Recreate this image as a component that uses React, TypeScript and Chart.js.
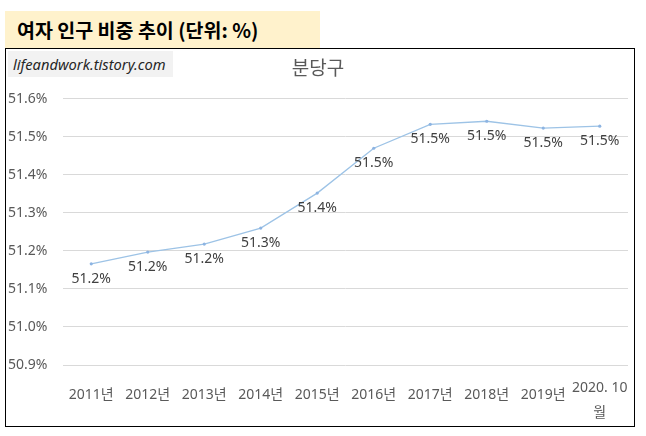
import { useEffect, useRef } from "react";
import { Chart, registerables, ChartConfiguration, Plugin } from "chart.js";

Chart.register(...registerables);

const categories: (string | string[])[] = [
  "2011년", "2012년", "2013년", "2014년", "2015년",
  "2016년", "2017년", "2018년", "2019년", ["2020. 10", "월"],
];
const femaleShare = [51.166, 51.197, 51.218, 51.26, 51.352, 51.47, 51.533, 51.541, 51.523, 51.528];
const yMin = 50.9;
const yMax = 51.6;

const FONT = "'Noto Sans', 'Noto Sans CJK KR', sans-serif";

// Excel style value labels just under each point
const pointLabels: Plugin<"line"> = {
  id: "pointLabels",
  afterDatasetsDraw(chart) {
    const ctx = chart.ctx;
    const meta = chart.getDatasetMeta(0);
    ctx.save();
    ctx.font = `14px ${FONT}`;
    ctx.fillStyle = "#404040";
    ctx.textAlign = "center";
    ctx.textBaseline = "middle";
    meta.data.forEach((pt, i) => {
      ctx.fillText(femaleShare[i].toFixed(1) + "%", pt.x, pt.y + 15);
    });
    ctx.restore();
  },
};

export default function App() {
  const chartRef = useRef<HTMLCanvasElement | null>(null);
  const chartInstanceRef = useRef<Chart<"line", number[], string | string[]> | null>(null);

  useEffect(() => {
    document.body.style.margin = "0";
    const canvas = chartRef.current;
    if (!canvas) return;
    const ctx = canvas.getContext("2d");
    if (!ctx) return;

    if (chartInstanceRef.current) {
      chartInstanceRef.current.destroy();
    }

    const config: ChartConfiguration<"line", number[], string | string[]> = {
      type: "line",
      data: {
        labels: categories,
        datasets: [
          {
            label: "분당구",
            data: femaleShare,
            borderColor: "#9dc3e6",
            backgroundColor: "#8db4e2",
            borderWidth: 1.3,
            tension: 0,
            pointRadius: 1.6,
            pointBorderWidth: 0,
            pointBackgroundColor: "#8db4e2",
          },
        ],
      },
      options: {
        responsive: false,
        animation: false,
        layout: { padding: { left: 8, right: 18, top: 0, bottom: 8 } },
        scales: {
          x: {
            offset: true,
            grid: { display: false, offset: true },
            border: { display: false },
            afterFit: (scale) => {
              scale.height = 63;
            },
            ticks: {
              color: "#595959",
              padding: 2.5,
              maxRotation: 0,
              autoSkip: false,
              font: (c) => ({
                family: FONT,
                size: 14,
                lineHeight: c.index === 9 ? 25 / 14 : 39 / 14,
              }),
            },
          },
          y: {
            min: yMin,
            max: yMax,
            grid: { color: "#d9d9d9", drawTicks: false, lineWidth: 1 },
            border: { display: false },
            afterFit: (scale) => {
              scale.width = 55;
            },
            ticks: {
              stepSize: 0.1,
              color: "#595959",
              crossAlign: "far",
              font: { family: FONT, size: 14 },
              callback: (v) => Number(v).toFixed(1) + "%",
            },
          },
        },
        plugins: {
          legend: { display: false },
          tooltip: { enabled: false },
          title: {
            display: true,
            text: "분당구",
            color: "#595959",
            font: { family: FONT, size: 19, weight: "normal", lineHeight: 1.2 },
            padding: { top: 58, bottom: 18 },
          },
        },
      },
      plugins: [pointLabels],
    };

    chartInstanceRef.current = new Chart(ctx, config);

    return () => {
      if (chartInstanceRef.current) {
        chartInstanceRef.current.destroy();
        chartInstanceRef.current = null;
      }
    };
  }, []);

  return (
    <div style={{ position: "relative", width: 646, height: 436, background: "#fff", fontFamily: FONT }}>
      <div
        style={{
          position: "absolute", left: 5, top: 11, width: 315, height: 37,
          background: "#fff2cc", boxSizing: "border-box", paddingLeft: 12,
          display: "flex", alignItems: "center",
          fontFamily: "'Noto Sans CJK KR', sans-serif", fontWeight: 700, fontSize: 19.5, color: "#000",
        }}
      >
        여자 인구 비중 추이 (단위: %)
      </div>
      <div
        style={{
          position: "absolute", left: 5, top: 48, width: 630, height: 379,
          border: "1px solid #000", boxSizing: "border-box", background: "#fff",
        }}
      />
      <div
        style={{
          position: "absolute", left: 8, top: 51, width: 165, height: 26,
          background: "#f2f2f2", boxSizing: "border-box", paddingLeft: 5,
          display: "flex", alignItems: "center",
          fontStyle: "italic", fontSize: 14.7, color: "#262626",
        }}
      >
        lifeandwork.tistory.com
      </div>
      <canvas
        ref={chartRef}
        width={646}
        height={436}
        style={{ position: "absolute", left: 0, top: 0, width: 646, height: 436 }}
      />
    </div>
  );
}
